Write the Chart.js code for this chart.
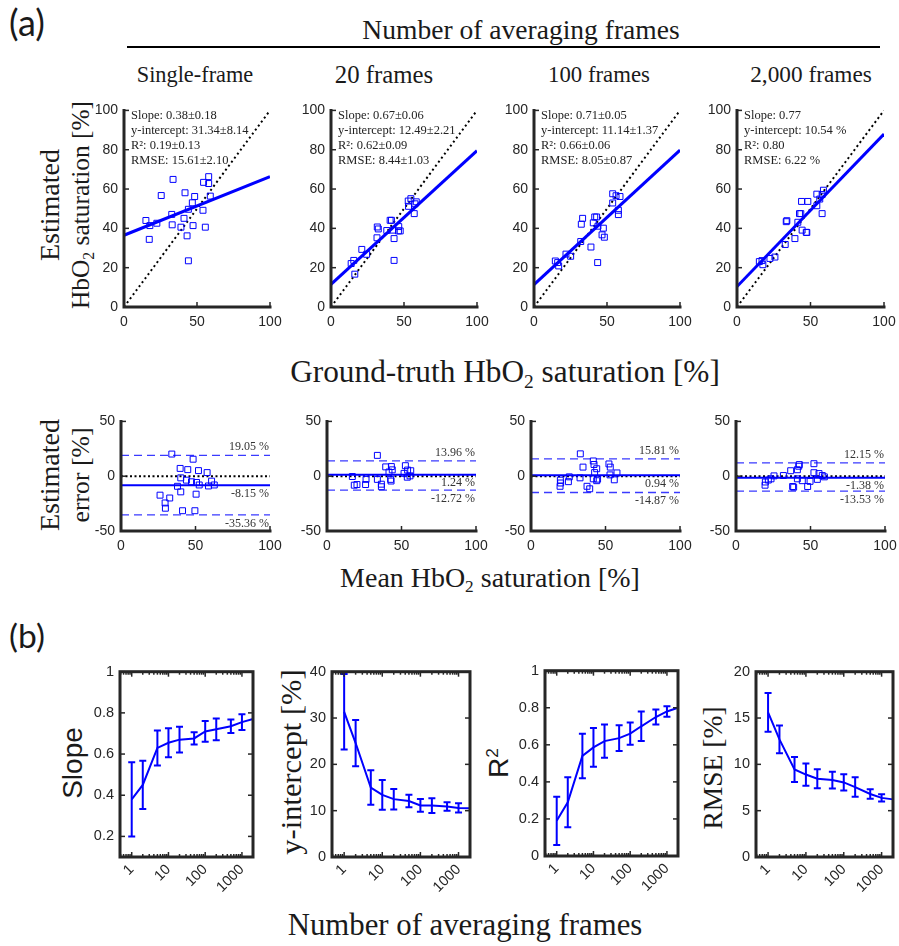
<!DOCTYPE html>
<html><head><meta charset="utf-8">
<script src="https://cdn.jsdelivr.net/npm/chart.js@4"></script>
<style>
body{margin:0;width:899px;height:946px;background:#fff;position:relative;overflow:hidden;}
.box{position:absolute;}
.lbl{position:absolute;white-space:nowrap;transform:translate(-50%,-50%);color:#1a1a1a;line-height:1;}
.rot{transform:translate(-50%,-50%) rotate(-90deg);}
.serif{font-family:"Liberation Serif",serif;}
.sans{font-family:"Liberation Sans",Arial,sans-serif;}
.cal{font-family:"Lato","Open Sans",sans-serif;}
.sb{font-size:0.62em;vertical-align:-0.28em;line-height:0;}
.sp{font-size:0.62em;vertical-align:0.55em;line-height:0;}
</style></head><body>
<div class="lbl cal" data-w="36" style="left:27px;top:22px;font-size:28px">(a)</div>
<div class="lbl serif" data-w="318" style="left:521px;top:30px;font-size:26px">Number of averaging frames</div>
<div style="position:absolute;left:127px;top:46px;width:753px;height:2px;background:#000"></div>
<div class="lbl serif" data-w="117" style="left:195px;top:75px;font-size:21px">Single-frame</div>
<div class="lbl serif" data-w="98" style="left:384px;top:75px;font-size:21px">20 frames</div>
<div class="lbl serif" data-w="102" style="left:599px;top:75px;font-size:21px">100 frames</div>
<div class="lbl serif" data-w="122" style="left:811px;top:75px;font-size:21px">2,000 frames</div>
<div class="lbl serif rot" data-w="112" style="left:50px;top:205px;font-size:26px">Estimated</div>
<div class="lbl serif rot" data-w="208" style="left:81px;top:205px;font-size:26px">HbO<span class="sb">2</span> saturation [%]</div>
<div class="lbl serif" data-w="430" style="left:505px;top:372px;font-size:26px">Ground-truth HbO<span class="sb">2</span> saturation [%]</div>
<div class="lbl serif rot" data-w="112" style="left:50px;top:475px;font-size:26px">Estimated</div>
<div class="lbl serif rot" data-w="95" style="left:81px;top:475px;font-size:26px">error [%]</div>
<div class="lbl serif" data-w="300" style="left:490px;top:578px;font-size:26px">Mean HbO<span class="sb">2</span> saturation [%]</div>
<div class="lbl cal" data-w="36" style="left:27px;top:636px;font-size:28px">(b)</div>
<div class="lbl sans rot" data-w="72" style="left:73px;top:763px;font-size:28px">Slope</div>
<div class="lbl serif rot" data-w="185" style="left:291px;top:762px;font-size:28px">y-intercept [%]</div>
<div class="lbl sans rot" style="left:499px;top:763px;font-size:28px">R<span class="sp">2</span></div>
<div class="lbl serif rot" data-w="123" style="left:713px;top:768px;font-size:28px">RMSE [%]</div>
<div class="lbl serif" data-w="355" style="left:465px;top:925px;font-size:28px">Number of averaging frames</div>
<script>
// ---------------- DATA ----------------
const panelTitles = ['Single-frame', '20 frames', '100 frames', '2,000 frames'];

// (a) top row: ground truth vs estimated HbO2 saturation [%]
const gtSingle  = [33.6,25.5,41.8,48.4,54.5,58,58,59.1,46.8,44.1,54.1,32.7,15,17.7,22.5,33,41.1,39,47.3,55.7,43.2,17.3,44.1];
const estSingle = [64.9,56.7,58.1,56.2,63.4,66.3,62.8,56.4,53.0,49.7,49.2,47.1,44,41.4,42.6,41.8,45.1,40.6,41.4,40.6,36.2,34.4,23.5];
const gt20  = [54.7,52.9,58.4,57.5,53.1,57,31.7,32.4,40.5,41.4,38.2,42.5,46.2,47.4,46.4,31.5,43.2,21.1,24.4,13.8,15.6,16.3,43.2];
const est20 = [55.1,53.9,53.5,52.5,51.2,47.5,40.7,39.7,44.1,44.1,38.9,39.1,38.7,38.7,40.9,35.2,34.8,29.3,26.8,22.1,23.7,16.7,23.7];
const gt100  = [53.9,56.2,58.9,53.9,57.8,57.8,33.3,32.4,41.6,42.9,40.6,43.8,47.5,46.6,48.2,32,39,21.9,25.1,14.6,16.2,16.9,43.6];
const est100 = [57.6,56.6,56.2,52.9,49.2,47.0,45.1,42.1,45.8,45.8,42.8,41.1,40.1,36.7,35.5,33.3,30.5,26.9,25.8,23.4,22.6,20.9,22.6];
const gt2000  = [58.8,57.9,54.3,56.3,54.3,57.9,43.9,48.2,42.5,43.4,41.4,33.5,33.9,44.3,47.5,47.1,39.4,32.8,25.8,22.4,15.2,17,17.6];
const est2000 = [59.4,57.2,57.4,54.9,51.5,47.5,53.7,53.7,47.5,47.5,43.1,43.4,43.9,39.1,37.9,38.0,34.8,31.8,25.4,24.7,23.1,23.6,21.5];

// fitted line value at x = 0 and x = 100
const fitAt0   = [36.5, 11.5, 11.4, 10.4];
const fitAt100 = [66.3, 79.5, 79.8, 88.0];

const statSlope     = ['0.38±0.18', '0.67±0.06', '0.71±0.05', '0.77'];
const statIntercept = ['31.34±8.14', '12.49±2.21', '11.14±1.37', '10.54 %'];
const statR2        = ['0.19±0.13', '0.62±0.09', '0.66±0.06', '0.80'];
const statRMSE      = ['15.61±2.10', '8.44±1.03', '8.05±0.87', '6.22 %'];

// (a) Bland-Altman row: mean vs error [%]
const baMeanSingle = [34.1,48.4,39.7,44.8,52,57.8,40.1,43.9,47.3,50.7,52.5,60.8,58.7,62.6,37.9,40.1,50.4,26.2,32.7,29.6,29.8,41.3,49.6];
const baErrSingle  = [20.2,15.5,7.1,6.0,5.1,3.3,-1.5,-3.6,-5.1,-5.7,-8.0,-4.5,-8.9,-8.0,-9.2,-14.3,-16.4,-17.3,-19.9,-24.4,-29.2,-31.5,-31.5];
const baMean20 = [33.8,39.4,43.2,43.8,41.6,52.6,51.7,54.1,56.2,55.7,53.9,17,33.8,42.7,43,26.2,25.9,18.3,20.1,36.5,36.5];
const baErr20  = [19.0,8.5,8.8,5.8,3.8,9.6,2.6,5.6,5.0,0.3,-0.9,-0.3,-2.9,-2.9,-4.4,-2.9,-7.6,-8.2,-7.6,-7.3,-9.6];
const baMean100 = [33.1,41.8,42.3,34.9,44.1,52.3,53.2,57.7,42.7,53,41.8,44.7,44.1,55.9,25.7,32.9,25.1,19.7,19.9,19.5,37.6,39.4];
const baErr100  = [20.4,13.9,10.7,8.3,6.8,11.2,8.3,3.0,3.3,1.2,-2.4,-2.7,-4.1,-3.3,-0.6,-1.5,-5,-3.6,-6.2,-9.2,-9.2,-11.5];
const baMean2000 = [42.5,42.1,52.3,41.2,36.7,52.3,55.7,57.9,59.3,31.8,25.5,23.5,41.2,44.5,54.6,49.7,21.7,19.7,19.5,38,38.7,48.1];
const baErr2000  = [10.6,9.1,11.4,5.9,5.0,3.2,2.4,0.6,-0.6,0.6,0.3,-2.4,-2.4,-4.1,-2.9,-4.7,-3.5,-5.3,-8.2,-9.4,-10,-9.4];

const baBias  = [-8.15, 1.24, 0.94, -1.38];
const baUpper = [19.05, 13.96, 15.81, 12.15];
const baLower = [-35.36, -12.72, -14.87, -13.53];

// (b) metrics vs number of averaging frames
const frames = [1, 2, 5, 10, 20, 50, 100, 200, 500, 1000, 2000];
const frameTicks = [1, 10, 100, 1000];
const slopeMean = [0.38, 0.45, 0.63, 0.655, 0.67, 0.676, 0.71, 0.72, 0.735, 0.755, 0.77];
const slopeErr  = [0.18, 0.117, 0.085, 0.07, 0.063, 0.03, 0.05, 0.053, 0.033, 0.038, null];
const interceptMean = [31.34, 24.6, 15.0, 13.4, 12.49, 12.1, 11.14, 11.1, 10.9, 10.6, 10.54];
const interceptErr  = [8.14, 5.0, 3.7, 3.2, 2.21, 1.35, 1.37, 1.6, 0.9, 1.0, null];
const r2Mean = [0.19, 0.29, 0.54, 0.586, 0.62, 0.636, 0.66, 0.70, 0.75, 0.78, 0.80];
const r2Err  = [0.13, 0.135, 0.12, 0.105, 0.09, 0.07, 0.06, 0.08, 0.04, 0.028, null];
const rmseMean = [15.61, 12.7, 9.45, 8.9, 8.44, 8.3, 8.05, 7.55, 6.8, 6.38, 6.22];
const rmseErr  = [2.10, 1.5, 1.35, 1.2, 1.03, 0.9, 0.87, 1.05, 0.5, 0.4, null];

// ---------------- LAYOUT / STYLE ----------------
const BLUE = '#0000ff';
const AX = '#262626';
const topBoxes = [{l:124,t:108,w:146,h:199},{l:331,t:108,w:146,h:199},{l:534,t:108,w:146,h:199},{l:737,t:108,w:147,h:199}];
const baBoxes  = [{l:121,t:419,w:149,h:112},{l:327,t:419,w:149,h:112},{l:531,t:419,w:149,h:112},{l:736,t:419,w:149,h:112}];
const botBoxes = [{l:120,t:669,w:133,h:188},{l:332,t:669,w:138,h:188},{l:545,t:668,w:133,h:188},{l:756,t:669,w:137,h:188}];

// fit label widths
document.querySelectorAll('[data-w]').forEach(el => {
  const fs = parseFloat(el.style.fontSize);
  const w = el.offsetWidth;
  el.style.fontSize = (fs * parseFloat(el.dataset.w) / w).toFixed(2) + 'px';
});

function placeCanvas(b, YW, XH, PT, PR) {
  const d = document.createElement('div');
  d.className = 'box';
  d.style.left = (b.l - YW) + 'px';
  d.style.top = (b.t - PT) + 'px';
  d.style.width = (b.w + YW + PR) + 'px';
  d.style.height = (b.h + PT + XH) + 'px';
  const c = document.createElement('canvas');
  d.appendChild(c);
  document.body.appendChild(d);
  return c;
}

function axesPlugin(box, minor) {
  return {
    id: 'matlabAxes',
    afterDatasetsDraw(chart) {
      const {ctx, chartArea: a, scales: {x, y}} = chart;
      ctx.save();
      ctx.strokeStyle = AX;
      const seg = (x1, y1, x2, y2) => { ctx.beginPath(); ctx.moveTo(x1, y1); ctx.lineTo(x2, y2); ctx.stroke(); };
      ctx.lineWidth = 1.5;
      const TL = 5;
      y.ticks.forEach(t => { const p = y.getPixelForValue(t.value); seg(a.left, p, a.left + TL, p); if (box) seg(a.right, p, a.right - TL, p); });
      x.ticks.forEach(t => { const p = x.getPixelForValue(t.value); seg(p, a.bottom, p, a.bottom - TL); if (box) seg(p, a.top, p, a.top + TL); });
      if (minor) {
        for (let e = -1; e <= 3; e++) for (let k = 2; k <= 9; k++) {
          const v = k * Math.pow(10, e);
          if (v <= x.min || v >= x.max) continue;
          const p = x.getPixelForValue(v);
          seg(p, a.bottom, p, a.bottom - 3); seg(p, a.top, p, a.top + 3);
        }
      }
      ctx.lineWidth = 3;
      ctx.lineCap = 'square';
      if (box) ctx.strokeRect(a.left, a.top, a.width, a.height);
      else { ctx.beginPath(); ctx.moveTo(a.left, a.top); ctx.lineTo(a.left, a.bottom); ctx.lineTo(a.right, a.bottom); ctx.stroke(); }
      ctx.restore();
    }
  };
}

function textPlugin(stats, levels) {
  return {
    id: 'annot',
    afterDatasetsDraw(chart) {
      const {ctx, chartArea: a, scales: {y}} = chart;
      ctx.save();
      ctx.fillStyle = '#222';
      ctx.font = '12.5px "Liberation Serif"';
      ctx.textBaseline = 'middle';
      if (stats) {
        ctx.textAlign = 'left';
        stats.forEach((s, i) => ctx.fillText(s, a.left + 7, a.top + 5 + i * 15.2));
      }
      if (levels) {
        ctx.font = '12px "Liberation Serif"';
        ctx.fillStyle = '#333';
        ctx.textAlign = 'right';
        levels.forEach(l => ctx.fillText(l.text, a.right - 1, y.getPixelForValue(l.v) + l.dy));
      }
      ctx.restore();
    }
  };
}

const errorBarPlugin = {
  id: 'errorBars',
  afterDatasetsDraw(chart) {
    const ds = chart.data.datasets[0];
    if (!ds.errors) return;
    const {ctx, scales: {x, y}} = chart;
    ctx.save();
    ctx.strokeStyle = BLUE;
    ctx.lineWidth = 2;
    ds.data.forEach((pt, i) => {
      const e = ds.errors[i];
      if (e == null) return;
      const px = x.getPixelForValue(pt.x), top = y.getPixelForValue(pt.y + e), bot = y.getPixelForValue(pt.y - e);
      ctx.beginPath();
      ctx.moveTo(px, top); ctx.lineTo(px, bot);
      ctx.moveTo(px - 3.5, top); ctx.lineTo(px + 3.5, top);
      ctx.moveTo(px - 3.5, bot); ctx.lineTo(px + 3.5, bot);
      ctx.stroke();
    });
    ctx.restore();
  }
};

function baseOptions(YW, XH, PT, PR, xs, ys) {
  const tickFont = {family: '"Liberation Sans", Arial, sans-serif', size: 14};
  const mk = (o, fit) => Object.assign({
    grid: {display: false, drawTicks: false},
    border: {display: false},
    afterFit: fit
  }, o, {ticks: Object.assign({font: tickFont, color: AX, padding: 6, maxRotation: 0, autoSkip: false}, o.ticks || {})});
  return {
    responsive: true, maintainAspectRatio: false, animation: false, events: [],
    layout: {padding: {top: PT, right: PR, left: 0, bottom: 0}},
    plugins: {legend: {display: false}, tooltip: {enabled: false}},
    scales: {
      x: mk(xs, s => { s.height = XH; }),
      y: mk(ys, s => { s.width = YW; })
    }
  };
}

const squareStyle = {pointStyle: 'rect', pointRadius: 4.2, borderColor: BLUE, backgroundColor: 'rgba(0,0,0,0)', borderWidth: 1, showLine: false};

// ---------------- TOP ROW ----------------
const topGT = [gtSingle, gt20, gt100, gt2000];
const topEst = [estSingle, est20, est100, est2000];
topBoxes.forEach((b, i) => {
  const c = placeCanvas(b, 40, 30, 12, 20);
  const pts = topGT[i].map((g, j) => ({x: g, y: topEst[i][j]}));
  new Chart(c, {
    type: 'scatter',
    data: {datasets: [
      {data: [{x: 0, y: fitAt0[i]}, {x: 100, y: fitAt100[i]}], showLine: true, borderColor: BLUE, borderWidth: 3, pointRadius: 0},
      Object.assign({data: pts}, squareStyle),
      {data: [{x: 0, y: 0}, {x: 100, y: 100}], showLine: true, borderColor: '#000', borderWidth: 2, borderDash: [2, 3], pointRadius: 0}
    ]},
    options: baseOptions(40, 30, 12, 20,
      {type: 'linear', min: 0, max: 100, ticks: {stepSize: 50, padding: 7}},
      {type: 'linear', min: 0, max: 100, ticks: {stepSize: 20}}),
    plugins: [axesPlugin(false, false), textPlugin([
      'Slope: ' + statSlope[i], 'y-intercept: ' + statIntercept[i], 'R²: ' + statR2[i], 'RMSE: ' + statRMSE[i]
    ], null)]
  });
});

// ---------------- BLAND-ALTMAN ROW ----------------
const baX = [baMeanSingle, baMean20, baMean100, baMean2000];
const baY = [baErrSingle, baErr20, baErr100, baErr2000];
baBoxes.forEach((b, i) => {
  const c = placeCanvas(b, 40, 30, 12, 20);
  const pts = baX[i].map((m, j) => ({x: m, y: baY[i][j]}));
  const hline = v => [{x: 0, y: v}, {x: 100, y: v}];
  new Chart(c, {
    type: 'scatter',
    data: {datasets: [
      Object.assign({data: pts}, squareStyle),
      {data: hline(baBias[i]), showLine: true, borderColor: BLUE, borderWidth: 2, pointRadius: 0},
      {data: hline(baUpper[i]), showLine: true, borderColor: '#3a3aff', borderWidth: 1.3, borderDash: [8, 5], pointRadius: 0},
      {data: hline(baLower[i]), showLine: true, borderColor: '#3a3aff', borderWidth: 1.3, borderDash: [8, 5], pointRadius: 0},
      {data: hline(0), showLine: true, borderColor: '#000', borderWidth: 2, borderDash: [2, 2.5], pointRadius: 0}
    ]},
    options: baseOptions(40, 30, 12, 20,
      {type: 'linear', min: 0, max: 100, ticks: {stepSize: 50, padding: 7}},
      {type: 'linear', min: -50, max: 50, ticks: {stepSize: 50}}),
    plugins: [axesPlugin(false, false), textPlugin(null, [
      {v: baUpper[i], text: baUpper[i].toFixed(2) + ' %', dy: -8},
      {v: baBias[i], text: baBias[i].toFixed(2) + ' %', dy: 8.5},
      {v: baLower[i], text: baLower[i].toFixed(2) + ' %', dy: 8.5}
    ])]
  });
});

// ---------------- (b) ROW ----------------
const botMeans = [slopeMean, interceptMean, r2Mean, rmseMean];
const botErrs = [slopeErr, interceptErr, r2Err, rmseErr];
const botY = [
  {min: 0.1, max: 1, vals: [0.2, 0.4, 0.6, 0.8, 1]},
  {min: 0, max: 40, vals: [0, 10, 20, 30, 40]},
  {min: 0, max: 1, vals: [0, 0.2, 0.4, 0.6, 0.8, 1]},
  {min: 0, max: 20, vals: [0, 5, 10, 15, 20]}
];
botBoxes.forEach((b, i) => {
  const c = placeCanvas(b, 45, 45, 12, 12);
  const yv = botY[i];
  const opts = baseOptions(45, 45, 12, 12,
    {type: 'logarithmic', min: 0.48, max: 2000,
     afterBuildTicks: s => { s.ticks = frameTicks.map(v => ({value: v})); },
     ticks: {minRotation: 45, maxRotation: 45, padding: 4, callback: v => String(v), font: {family: '"Liberation Sans", Arial, sans-serif', size: 14.5}}},
    {type: 'linear', min: yv.min, max: yv.max,
     afterBuildTicks: s => { s.ticks = yv.vals.map(v => ({value: v})); },
     ticks: {padding: 6, callback: v => String(+v.toFixed(2)), font: {family: '"Liberation Sans", Arial, sans-serif', size: 14.5}}});
  new Chart(c, {
    type: 'scatter',
    data: {datasets: [{
      data: frames.map((f, j) => ({x: f, y: botMeans[i][j]})),
      errors: botErrs[i],
      showLine: true, borderColor: BLUE, borderWidth: 2, pointRadius: 0, clip: false
    }]},
    options: opts,
    plugins: [errorBarPlugin, axesPlugin(true, true)]
  });
});
</script>
</body></html>
